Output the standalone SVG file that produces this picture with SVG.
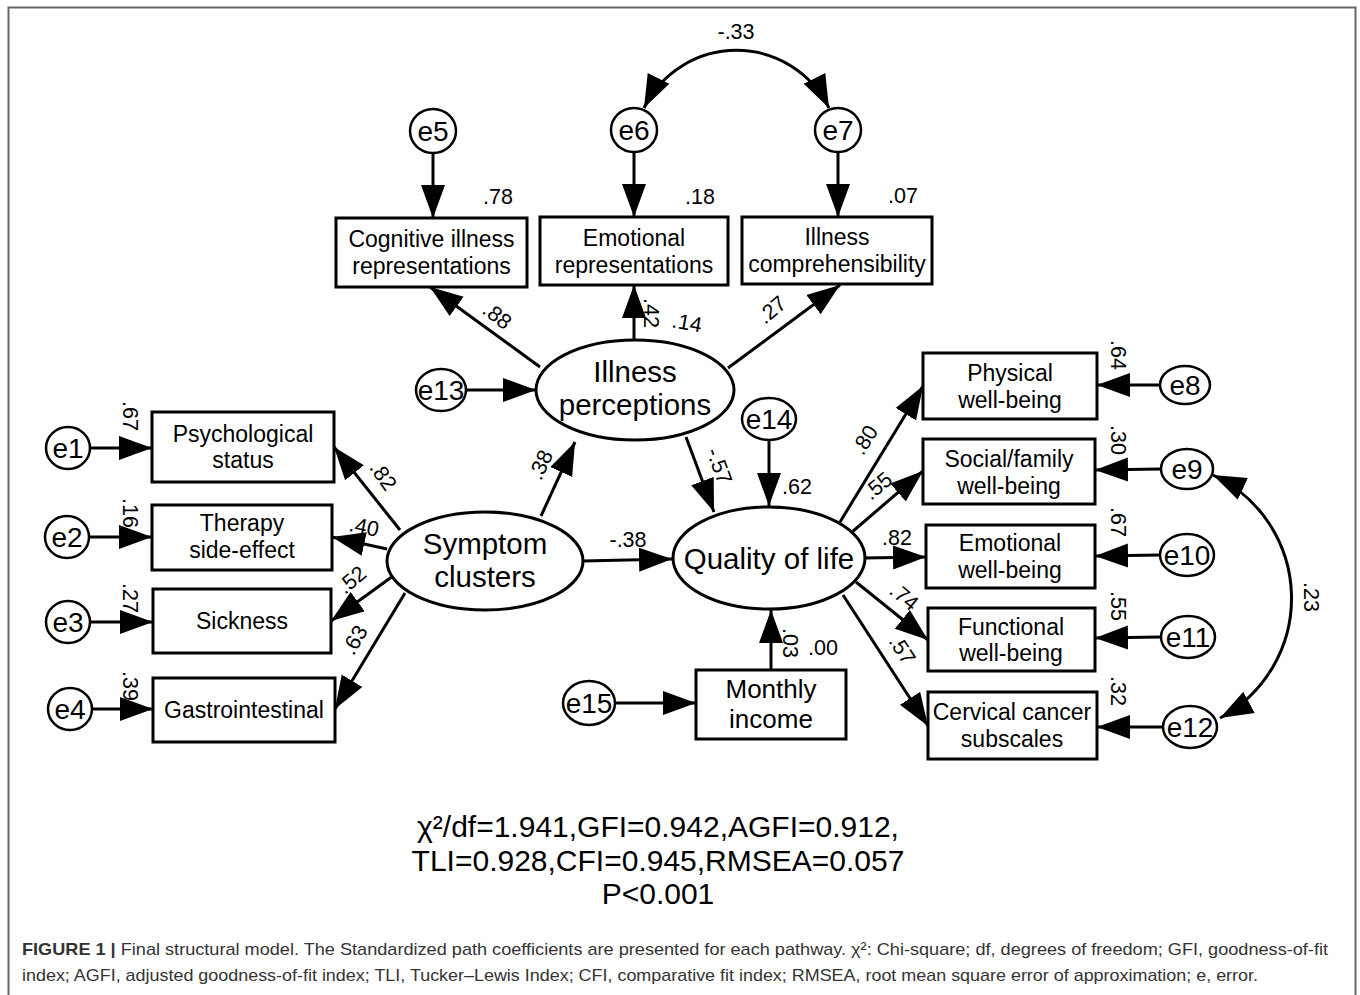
<svg xmlns="http://www.w3.org/2000/svg" width="1360" height="995" viewBox="0 0 1360 995">
<defs>
<marker id="ah" markerUnits="userSpaceOnUse" markerWidth="34" markerHeight="26" viewBox="0 -13 34 26" refX="33" refY="0" orient="auto-start-reverse">
<path d="M0,-12 L33,0 L0,12 z" fill="#000"/>
</marker>
<style>
text{font-family:"Liberation Sans",Arial,sans-serif;fill:#000}
.box{fill:#fff;stroke:#000;stroke-width:3}
.lat{fill:#fff;stroke:#000;stroke-width:3}
.err{fill:#fff;stroke:#000;stroke-width:2.5}
.bt{font-size:23px;text-anchor:middle}
.mt{font-size:26px;text-anchor:middle}
.lt{font-size:29.5px;text-anchor:middle}
.et{font-size:28px;text-anchor:middle}
.cf{font-size:21.5px;text-anchor:middle}
.arr{fill:none;stroke:#000;stroke-width:3;marker-end:url(#ah)}
.cov{fill:none;stroke:#000;stroke-width:3;marker-start:url(#ah);marker-end:url(#ah)}
.fit{font-size:30px;text-anchor:middle}
.cap{font-size:17px;fill:#333}
</style>
</defs>
<rect width="1360" height="995" fill="#fff"/>
<path d="M8.5,995 V7.5 H1355.5 V995" fill="none" stroke="#666" stroke-width="2"/>

<g id="connectors">
<line class="arr" x1="433" y1="153" x2="433" y2="218"/>
<line class="arr" x1="634" y1="152" x2="634" y2="217"/>
<line class="arr" x1="838" y1="152" x2="838" y2="217"/>
<path class="cov" d="M644,108 A103,103 0 0 1 829,108"/>
<line class="arr" x1="540" y1="367" x2="430" y2="287"/>
<line class="arr" x1="634" y1="340" x2="634" y2="285"/>
<line class="arr" x1="728" y1="368" x2="840" y2="285"/>
<line class="arr" x1="465" y1="390" x2="536" y2="390"/>
<line class="arr" x1="90" y1="448" x2="152" y2="448"/>
<line class="arr" x1="89" y1="537" x2="152" y2="537"/>
<line class="arr" x1="90" y1="622" x2="153" y2="622"/>
<line class="arr" x1="92" y1="709" x2="153" y2="709"/>
<line class="arr" x1="400" y1="530" x2="334" y2="447"/>
<line class="arr" x1="387" y1="549" x2="332" y2="537"/>
<line class="arr" x1="393" y1="576" x2="331" y2="621"/>
<line class="arr" x1="405" y1="593" x2="335" y2="709"/>
<line class="arr" x1="541" y1="516" x2="575" y2="442"/>
<line class="arr" x1="583" y1="561" x2="672" y2="559"/>
<line class="arr" x1="686" y1="437" x2="714" y2="512"/>
<line class="arr" x1="769" y1="440" x2="769" y2="506"/>
<line class="arr" x1="771" y1="670" x2="771" y2="610"/>
<line class="arr" x1="615" y1="703" x2="696" y2="703"/>
<line class="arr" x1="840" y1="522" x2="923" y2="386"/>
<line class="arr" x1="852" y1="532" x2="923" y2="471"/>
<line class="arr" x1="864" y1="558" x2="926" y2="557"/>
<line class="arr" x1="856" y1="582" x2="928" y2="640"/>
<line class="arr" x1="843" y1="595" x2="928" y2="726"/>
<line class="arr" x1="1160" y1="385" x2="1097" y2="385"/>
<line class="arr" x1="1161" y1="469" x2="1095" y2="470"/>
<line class="arr" x1="1160" y1="555" x2="1095" y2="556"/>
<line class="arr" x1="1161" y1="637" x2="1095" y2="638"/>
<line class="arr" x1="1164" y1="727" x2="1097" y2="727"/>
<path class="cov" d="M1213,475 A136,136 0 0 1 1220,718"/>
</g>

<g id="coefficients">
<text class="cf" x="736" y="39">-.33</text>
<text class="cf" x="498" y="204">.78</text>
<text class="cf" x="700" y="204">.18</text>
<text class="cf" x="903" y="203">.07</text>
<text class="cf" transform="translate(497,316) rotate(38)" y="7">.88</text>
<text class="cf" transform="translate(651,313) rotate(90)" y="7">.42</text>
<text class="cf" transform="translate(687,323) rotate(10)" y="7">.14</text>
<text class="cf" transform="translate(772,310) rotate(-40)" y="7">.27</text>
<text class="cf" transform="translate(541,465) rotate(-65)" y="7">.38</text>
<text class="cf" transform="translate(383,476) rotate(55)" y="7">.82</text>
<text class="cf" transform="translate(364,527) rotate(12)" y="7">.40</text>
<text class="cf" transform="translate(352,580) rotate(-40)" y="7">.52</text>
<text class="cf" transform="translate(355,640) rotate(-60)" y="7">.63</text>
<text class="cf" transform="translate(130,416) rotate(90)" y="7">.67</text>
<text class="cf" transform="translate(130,513) rotate(90)" y="7">.16</text>
<text class="cf" transform="translate(130,598) rotate(90)" y="7">.27</text>
<text class="cf" transform="translate(130,686) rotate(90)" y="7">.39</text>
<text class="cf" x="628" y="547">-.38</text>
<text class="cf" transform="translate(719,466) rotate(70)" y="7">-.57</text>
<text class="cf" x="797" y="494">.62</text>
<text class="cf" transform="translate(790,643) rotate(90)" y="7">.03</text>
<text class="cf" x="823" y="655">.00</text>
<text class="cf" transform="translate(865,440) rotate(-58)" y="7">.80</text>
<text class="cf" transform="translate(878,486) rotate(-40)" y="7">.55</text>
<text class="cf" x="897" y="545">.82</text>
<text class="cf" transform="translate(904,597) rotate(40)" y="7">.74</text>
<text class="cf" transform="translate(902,650) rotate(57)" y="7">.57</text>
<text class="cf" transform="translate(1118,355) rotate(90)" y="7">.64</text>
<text class="cf" transform="translate(1118,440) rotate(90)" y="7">.30</text>
<text class="cf" transform="translate(1118,522) rotate(90)" y="7">.67</text>
<text class="cf" transform="translate(1118,606) rotate(90)" y="7">.55</text>
<text class="cf" transform="translate(1118,691) rotate(90)" y="7">.32</text>
<text class="cf" transform="translate(1311,597) rotate(90)" y="7">.23</text>
</g>

<g id="e5"><ellipse class="err" cx="433" cy="131" rx="23" ry="22"/><text class="et" x="433" y="141">e5</text></g>
<g id="e6"><ellipse class="err" cx="634" cy="130" rx="23" ry="22"/><text class="et" x="634" y="140">e6</text></g>
<g id="e7"><ellipse class="err" cx="838" cy="130" rx="23" ry="22"/><text class="et" x="838" y="140">e7</text></g>

<g id="cognitive"><rect class="box" x="336" y="218" width="191" height="69"/><text class="bt" x="431.5" y="247">Cognitive illness</text><text class="bt" x="431.5" y="274">representations</text></g>
<g id="emotional-rep"><rect class="box" x="540" y="217" width="188" height="68"/><text class="bt" x="634" y="246">Emotional</text><text class="bt" x="634" y="273">representations</text></g>
<g id="comprehensibility"><rect class="box" x="742" y="217" width="190" height="67"/><text class="bt" x="837" y="245">Illness</text><text class="bt" x="837" y="272">comprehensibility</text></g>

<g id="illness-perceptions"><ellipse class="lat" cx="635" cy="390" rx="99" ry="50"/><text class="lt" x="635" y="382">Illness</text><text class="lt" x="635" y="415">perceptions</text></g>
<g id="e13"><ellipse class="err" cx="441" cy="390" rx="25" ry="21"/><text class="et" x="441" y="400">e13</text></g>

<g id="e1"><ellipse class="err" cx="68" cy="448" rx="22" ry="21"/><text class="et" x="68" y="458">e1</text></g>
<g id="e2"><ellipse class="err" cx="67" cy="537" rx="22" ry="21"/><text class="et" x="67" y="547">e2</text></g>
<g id="e3"><ellipse class="err" cx="68" cy="622" rx="22" ry="21"/><text class="et" x="68" y="632">e3</text></g>
<g id="e4"><ellipse class="err" cx="70" cy="709" rx="22" ry="21"/><text class="et" x="70" y="719">e4</text></g>

<g id="psychological"><rect class="box" x="152" y="412" width="182" height="70"/><text class="bt" x="243" y="442">Psychological</text><text class="bt" x="243" y="468">status</text></g>
<g id="therapy"><rect class="box" x="152" y="505" width="180" height="65"/><text class="bt" x="242" y="531">Therapy</text><text class="bt" x="242" y="558">side-effect</text></g>
<g id="sickness"><rect class="box" x="153" y="589" width="178" height="64"/><text class="bt" x="242" y="629">Sickness</text></g>
<g id="gastro"><rect class="box" x="153" y="678" width="182" height="64"/><text class="bt" x="244" y="718">Gastrointestinal</text></g>

<g id="symptom-clusters"><ellipse class="lat" cx="485" cy="561" rx="98" ry="49"/><text class="lt" x="485" y="554">Symptom</text><text class="lt" x="485" y="587">clusters</text></g>

<g id="quality-of-life"><ellipse class="lat" cx="769" cy="558" rx="96" ry="51"/><text class="lt" x="769" y="569">Quality of life</text></g>
<g id="e14"><ellipse class="err" cx="769" cy="419" rx="27" ry="21"/><text class="et" x="769" y="429">e14</text></g>
<g id="monthly-income"><rect class="box" x="696" y="670" width="150" height="69"/><text class="mt" x="771" y="698">Monthly</text><text class="mt" x="771" y="728">income</text></g>
<g id="e15"><ellipse class="err" cx="589" cy="703" rx="26" ry="22"/><text class="et" x="589" y="713">e15</text></g>

<g id="physical"><rect class="box" x="923" y="353" width="174" height="66"/><text class="bt" x="1010" y="381">Physical</text><text class="bt" x="1010" y="408">well-being</text></g>
<g id="social"><rect class="box" x="923" y="439" width="172" height="65"/><text class="bt" x="1009" y="467">Social/family</text><text class="bt" x="1009" y="494">well-being</text></g>
<g id="emotional-wb"><rect class="box" x="926" y="525" width="169" height="63"/><text class="bt" x="1010" y="551">Emotional</text><text class="bt" x="1010" y="578">well-being</text></g>
<g id="functional"><rect class="box" x="928" y="608" width="167" height="63"/><text class="bt" x="1011" y="635">Functional</text><text class="bt" x="1011" y="661">well-being</text></g>
<g id="cervical"><rect class="box" x="928" y="692" width="169" height="67"/><text class="bt" x="1012" y="720">Cervical cancer</text><text class="bt" x="1012" y="747">subscales</text></g>

<g id="e8"><ellipse class="err" cx="1185" cy="385" rx="25" ry="19"/><text class="et" x="1185" y="395">e8</text></g>
<g id="e9"><ellipse class="err" cx="1187" cy="469" rx="26" ry="20"/><text class="et" x="1187" y="479">e9</text></g>
<g id="e10"><ellipse class="err" cx="1187" cy="555" rx="27" ry="21"/><text class="et" x="1187" y="565">e10</text></g>
<g id="e11"><ellipse class="err" cx="1188" cy="637" rx="27" ry="21"/><text class="et" x="1188" y="647">e11</text></g>
<g id="e12"><ellipse class="err" cx="1190" cy="727" rx="27" ry="21"/><text class="et" x="1190" y="737">e12</text></g>

<g id="fit-indices">
<text class="fit" x="658" y="837">χ²/df=1.941,GFI=0.942,AGFI=0.912,</text>
<text class="fit" x="658" y="871">TLI=0.928,CFI=0.945,RMSEA=0.057</text>
<text class="fit" x="658" y="904">P&lt;0.001</text>
</g>

<g id="caption">
<text class="cap" x="22" y="955" textLength="1306" lengthAdjust="spacingAndGlyphs"><tspan font-weight="bold">FIGURE 1 |</tspan> Final structural model. The Standardized path coefficients are presented for each pathway. χ²: Chi-square; df, degrees of freedom; GFI, goodness-of-fit</text>
<text class="cap" x="22" y="981" textLength="1236" lengthAdjust="spacingAndGlyphs">index; AGFI, adjusted goodness-of-fit index; TLI, Tucker–Lewis Index; CFI, comparative fit index; RMSEA, root mean square error of approximation; e, error.</text>
</g>
</svg>
